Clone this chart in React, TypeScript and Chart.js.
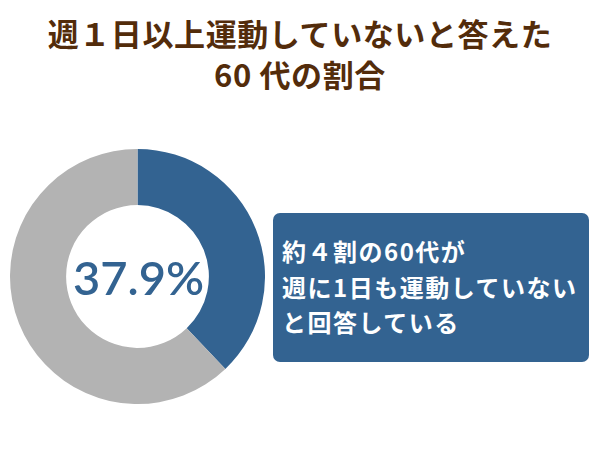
import React, { useEffect, useRef } from "react";
import { Chart, registerables } from "chart.js";

Chart.register(...registerables);

const titleLines = ["週１日以上運動していないと答えた", "60 代の割合"];
const sliceLabels = ["週1日以上運動していない", "その他"];
const sliceValues = [37.9, 62.1];
const sliceColors = ["#336391", "#b3b3b3"];
const centerLabel = "37.9%";
const noteLines = ["約４割の60代が", "週に1日も運動していない", "と回答している"];

const centerTextPlugin = {
  id: "centerText",
  afterDraw(chart: any) {
    const meta = chart.getDatasetMeta(0);
    if (!meta || !meta.data || !meta.data[0]) return;
    const arc = meta.data[0];
    const ctx = chart.ctx;
    ctx.save();
    ctx.fillStyle = sliceColors[0];
    ctx.font = "600 47px Lato, 'Noto Sans', sans-serif";
    ctx.textAlign = "center";
    ctx.textBaseline = "middle";
    ctx.fillText(centerLabel, arc.x + 1, arc.y + 3);
    ctx.restore();
  },
};

export default function App() {
  const canvasRef = useRef<HTMLCanvasElement | null>(null);

  useEffect(() => {
    if (!canvasRef.current) return;
    const chart = new Chart(canvasRef.current, {
      type: "doughnut",
      data: {
        labels: sliceLabels,
        datasets: [
          {
            data: sliceValues,
            backgroundColor: sliceColors,
            borderWidth: 0,
          },
        ],
      },
      options: {
        responsive: false,
        animation: false,
        cutout: "56%",
        rotation: 0,
        layout: { padding: 0 },
        plugins: {
          legend: { display: false },
          tooltip: { enabled: false },
          title: { display: false },
        },
      },
      plugins: [centerTextPlugin],
    });
    return () => chart.destroy();
  }, []);

  return (
    <div
      style={{
        position: "fixed",
        left: 0,
        top: 0,
        width: 600,
        height: 450,
        background: "#ffffff",
        overflow: "hidden",
      }}
    >
      {titleLines.map((t, i) => (
        <div
          key={i}
          style={{
            position: "absolute",
            left: 0,
            width: 600,
            top: 13 + i * 41,
            height: 40,
            lineHeight: "40px",
            textAlign: "center",
            fontFamily: "'Noto Sans CJK JP', sans-serif",
            fontWeight: 700,
            fontSize: 31,
            letterSpacing: 0.6,
            color: "#532c0b",
            whiteSpace: "nowrap",
          }}
        >
          {t}
        </div>
      ))}
      <canvas
        ref={canvasRef}
        width={255}
        height={255}
        style={{ position: "absolute", left: 10, top: 149, width: 255, height: 255 }}
      />
      <div
        style={{
          position: "absolute",
          left: 273,
          top: 213,
          width: 316,
          height: 149,
          borderRadius: 7,
          background: sliceColors[0],
        }}
      >
        {noteLines.map((t, i) => (
          <div
            key={i}
            style={{
              position: "absolute",
              left: 9,
              top: 20 + i * 35.5,
              height: 36,
              lineHeight: "36px",
              fontFamily: "'Noto Sans CJK JP', sans-serif",
              fontWeight: 700,
              fontSize: 24,
              letterSpacing: 1.5,
              color: "#ffffff",
              whiteSpace: "nowrap",
            }}
          >
            {t}
          </div>
        ))}
      </div>
    </div>
  );
}
